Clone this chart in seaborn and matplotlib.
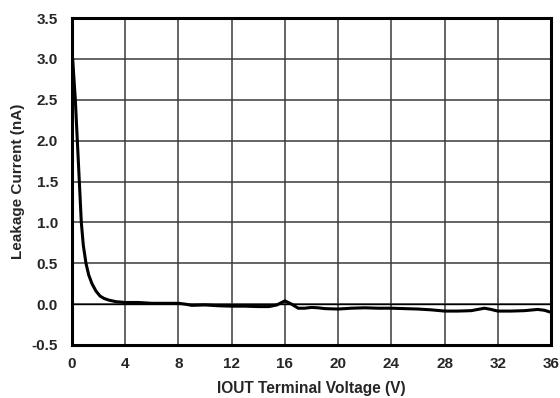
import matplotlib
matplotlib.use("Agg")
import matplotlib.pyplot as plt
import seaborn as sns
import pandas as pd

voltage = [0.0, 0.05, 0.25, 0.4, 0.55, 0.7, 0.85, 1.05, 1.25, 1.5, 1.8, 2.1, 2.4, 2.75, 3.3, 4.0, 5.0, 6.0, 7.0, 8.0, 8.5, 9.0, 10.0,
           11.0, 12.0, 13.0, 14.0, 14.8, 15.4, 16.0, 16.5, 17.0, 17.5, 18.0, 18.5, 19.0, 20.0, 21.0, 22.0,
           23.0, 24.0, 25.0, 26.0, 27.0, 28.0, 29.0, 30.0, 30.5, 31.0, 31.5, 32.0, 33.0, 34.0, 35.0, 35.5, 36.0]
current = [3.05, 3.0, 2.5, 2.0, 1.5, 1.0, 0.72, 0.5, 0.36, 0.25, 0.16, 0.1, 0.07, 0.05, 0.03, 0.02, 0.02, 0.01, 0.01, 0.01, 0.0, -0.015, -0.01,
           -0.02, -0.025, -0.025, -0.03, -0.03, -0.01, 0.04, 0.0, -0.05, -0.05, -0.04, -0.045, -0.055, -0.06, -0.05, -0.045,
           -0.05, -0.05, -0.055, -0.06, -0.07, -0.085, -0.085, -0.08, -0.065, -0.05, -0.065, -0.085, -0.085, -0.08, -0.065, -0.075, -0.1]

x_ticks = [0, 4, 8, 12, 16, 20, 24, 28, 32, 36]
y_ticks = [-0.5, 0.0, 0.5, 1.0, 1.5, 2.0, 2.5, 3.0, 3.5]

df = pd.DataFrame({"V": voltage, "I": current})

sns.set_theme(style="white")
plt.rcParams["font.family"] = ["Liberation Sans", "DejaVu Sans"]
plt.rcParams["font.weight"] = "bold"

fig = plt.figure(figsize=(5.6, 3.98), dpi=100)
ax = fig.add_axes([72 / 560, 1 - 345 / 398, (551 - 72) / 560, (345 - 18) / 398])

sns.lineplot(data=df, x="V", y="I", ax=ax, color="black", linewidth=2.2)

ax.set_xlim(0, 36)
ax.set_ylim(-0.5, 3.5)
ax.set_xticks(x_ticks)
ax.set_yticks(y_ticks)
ax.set_xticklabels([str(t) for t in x_ticks], fontsize=11, fontweight="bold")
ax.set_yticklabels([f"{t:.1f}" for t in y_ticks], fontsize=11, fontweight="bold")
ax.grid(True, color="#3a3a3a", linewidth=1.1)
ax.axhline(0, color="black", linewidth=1.0, zorder=1)
ax.tick_params(axis="x", length=0, pad=9)
ax.tick_params(axis="y", length=0, pad=10)
for s in ax.spines.values():
    s.set_color("black")
    s.set_linewidth(2.2)
ax.set_xlabel("IOUT Terminal Voltage (V)", fontsize=11.2, fontweight="bold", labelpad=7)
ax.set_ylabel("Leakage Current (nA)", fontsize=11, fontweight="bold", labelpad=5)

fig.savefig("out.png", dpi=100)
